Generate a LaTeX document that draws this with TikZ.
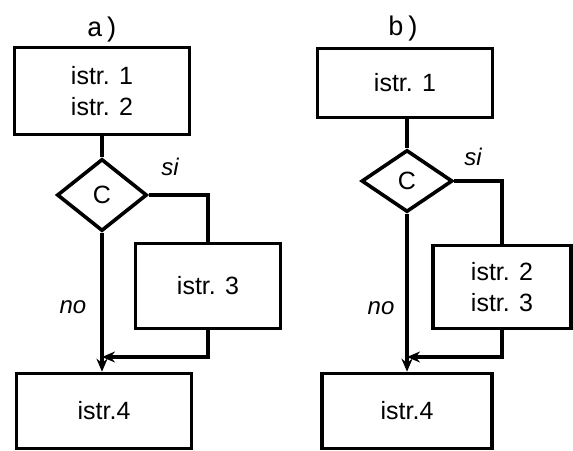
\documentclass[tikz,border=0pt]{standalone}
\usepackage{fontspec}
\setmainfont{Liberation Sans}
\newfontfamily\labelfont{Liberation Mono}
\usetikzlibrary{positioning, arrows.meta, shapes.geometric}

\begin{document}
\begin{tikzpicture}[
    x=1pt, y=-1pt,
    line width=3.6pt,
    >={Stealth[length=13pt,width=11pt]},
    font=\fontsize{25}{31}\selectfont,
    istr/.style={draw, align=center, inner sep=0pt},
    cond/.style={draw, diamond, inner sep=0pt},
    lab/.style={font=\labelfont\fontsize{27}{27}\selectfont},
    ans/.style={font=\itshape\fontsize{24}{24}\selectfont},
]
\useasboundingbox (0,0) rectangle (573,450);

% a)
\node[lab] (la) at (103,30) {a)};
\node[istr, minimum width=175pt, minimum height=87pt] (a1) at (102,91) {istr. 1\\istr. 2};
\node[cond, minimum width=90pt, minimum height=72pt] (ca) at (102,195) {C};
\node[istr, minimum width=145pt, minimum height=85pt] (a3) at (208,286) {istr. 3};
\node[istr, minimum width=175pt, minimum height=75pt] (a4) at (104,411) {istr.4};
\coordinate (ja) at (102,357);
\node[ans] (sa) at (170,167) {si};
\node[ans] (na) at (73,307) {no};
\draw (a1) -- (ca);
\draw[->] (ca.south) -- (ja |- a4.north);
\draw (ca.east) -| (a3.north);
\draw[->] (a3.south) |- (ja);

% b)
\node[lab] (lb) at (404,29) {b)};
\node[istr, minimum width=175pt, minimum height=69pt] (b1) at (405,83) {istr. 1};
\node[cond, minimum width=91pt, minimum height=62pt] (cb) at (407,181) {C};
\node[istr, minimum width=138pt, minimum height=83pt] (b3) at (502,287) {istr. 2\\istr. 3};
\node[istr, minimum width=170pt, minimum height=75pt] (b4) at (407,411) {istr.4};
\coordinate (jb) at (407,357);
\node[ans] (sb) at (473,157) {si};
\node[ans] (nb) at (381,308) {no};
\draw (b1.south -| cb) -- (cb);
\draw[->] (cb.south) -- (b4.north);
\draw (cb.east) -| (b3.north);
\draw[->] (b3.south) |- (jb);

\end{tikzpicture}
\end{document}
